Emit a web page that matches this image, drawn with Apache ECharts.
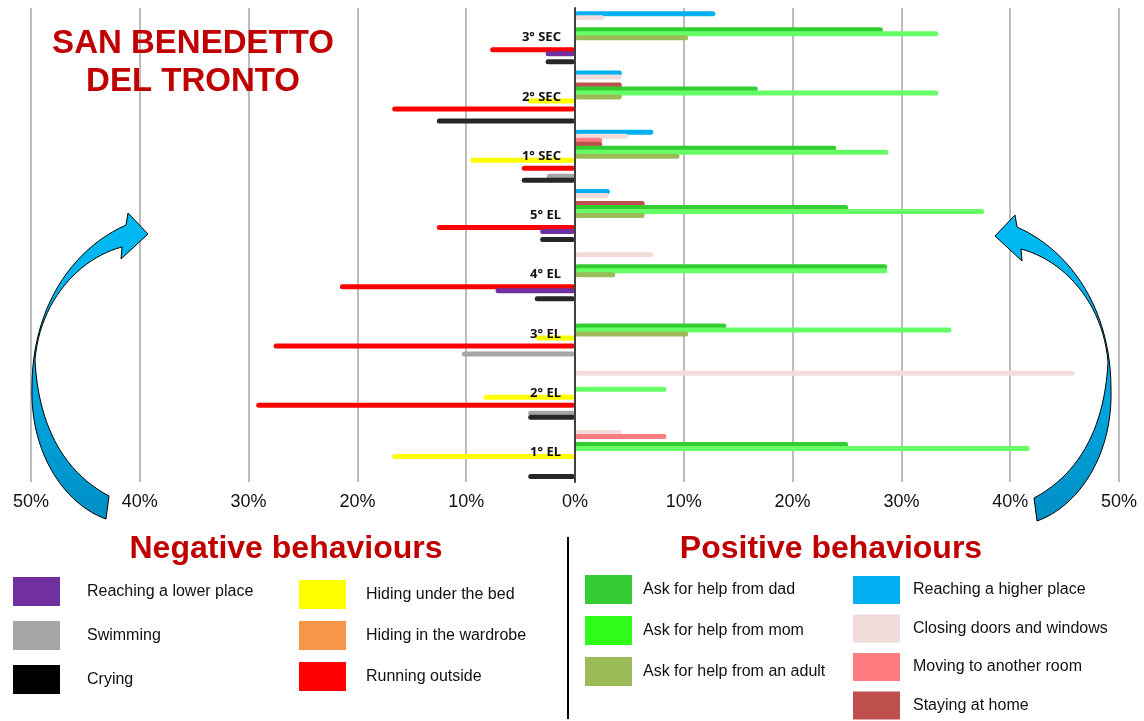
<!DOCTYPE html>
<html>
<head>
<meta charset="utf-8">
<script src="https://cdn.jsdelivr.net/npm/echarts@6/dist/echarts.min.js"></script>
<style>html,body{margin:0;padding:0;background:#fff;}#c{width:1144px;height:721px;}</style>
</head>
<body>
<div id="c"></div>
<script>
// Categories (bottom to top on the axis)
const categories = ['1° EL', '2° EL', '3° EL', '4° EL', '5° EL', '1° SEC', '2° SEC', '3° SEC'];
const xTicks = [-50, -40, -30, -20, -10, 0, 10, 20, 30, 40, 50];

// Positive behaviours (%)
const higherPlace   = [0, 0, 0, 0, 3.2, 7.2, 4.3, 12.9];
const closingDoors  = [4.3, 45.9, 0, 7.2, 3.1, 4.9, 4.3, 2.7];
const anotherRoom   = [8.4, 0, 0, 0, 0, 2.5, 0, 0];
const stayingHome   = [0, 0, 0, 0, 6.4, 2.5, 4.3, 0];
const helpDad       = [25.1, 0, 13.9, 28.7, 25.1, 24.0, 16.8, 28.3];
const helpMom       = [41.8, 8.4, 34.6, 28.7, 37.6, 28.8, 33.4, 33.4];
const helpAdult     = [0, 0, 10.4, 3.7, 6.4, 9.6, 4.3, 10.4];
// Negative behaviours (%), drawn to the left
const underBed      = [-16.8, -8.4, -3.6, 0, 0, -9.6, -4.3, 0];
const inWardrobe    = [0, 0, 0, 0, 0, 0, 0, 0];
const runningOut    = [0, -29.3, -27.7, -21.6, -12.7, -4.9, -16.8, -7.8];
const lowerPlace    = [0, 0, 0, -7.3, -3.2, 0, 0, -2.7];
const swimming      = [0, -4.3, -10.4, 0, 0, -2.6, 0, 0];
const crying        = [-4.3, -4.3, 0, -3.7, -3.2, -4.9, -12.7, -2.7];

const seriesDefs = [
  ['Reaching a higher place', higherPlace, '#00B0F0'],
  ['Closing doors and windows', closingDoors, '#F2DCDB'],
  ['Moving to another room', anotherRoom, '#FF7C80'],
  ['Staying at home', stayingHome, '#C0504D'],
  ['Ask for help from dad', helpDad, '#33CC33'],
  ['Ask for help from mom', helpMom, '#66FF66'],
  ['Ask for help from an adult', helpAdult, '#9BBB59'],
  ['Hiding under the bed', underBed, '#FFFF00'],
  ['Hiding in the wardrobe', inWardrobe, '#F79646'],
  ['Running outside', runningOut, '#FF0000'],
  ['Reaching a lower place', lowerPlace, '#7030A0'],
  ['Swimming', swimming, '#A6A6A6'],
  ['Crying', crying, '#262626']
];

const chart = echarts.init(document.getElementById('c'));

const series = seriesDefs.map(([name, data, color]) => ({
  name: name,
  type: 'bar',
  data: data,
  barWidth: 5,
  barGap: '-20%',
  barCategoryGap: '10%',
  itemStyle: { color: color, borderRadius: 2.5 },
  emphasis: { disabled: true },
  animation: false
}));

const legendBase = {
  orient: 'vertical',
  icon: 'rect',
  padding: 0,
  itemWidth: 47,
  itemHeight: 29,
  height: 160,
  selectedMode: false,
  textStyle: { fontSize: 16, color: '#111', fontFamily: 'Liberation Sans, Arial, sans-serif' }
};
function L(opts, pad) {
  return Object.assign({}, legendBase, opts, {
    textStyle: Object.assign({}, legendBase.textStyle, { padding: [5, 0, 0, pad] })
  });
}

// Decorative curved arrow outline, sampled from cubic segments into a polygon
function bez(p0, p1, p2, p3, n) {
  const pts = [];
  for (let i = 1; i <= n; i++) {
    const t = i / n, u = 1 - t;
    pts.push([
      u*u*u*p0[0] + 3*u*u*t*p1[0] + 3*u*t*t*p2[0] + t*t*t*p3[0],
      u*u*u*p0[1] + 3*u*u*t*p1[1] + 3*u*t*t*p2[1] + t*t*t*p3[1]
    ]);
  }
  return pts;
}
function arrowPoints(mirror, dy) {
  const f = p => mirror ? [1143 - p[0], p[1] + dy] : [p[0], p[1] + dy];
  let pts = [[106, 519]];
  pts = pts.concat(bez([106, 519], [66, 505], [30, 455], [32, 387], 24));
  pts = pts.concat(bez([32, 387], [32, 310], [70, 250], [126, 225], 24));
  pts.push([128, 213], [148, 234], [121, 259], [122, 247]);
  pts = pts.concat(bez([122, 247], [80, 258], [40, 300], [35, 360], 24));
  pts = pts.concat(bez([35, 360], [38, 420], [60, 470], [109, 496], 24));
  return pts.map(f);
}
function grad() {
  return new echarts.graphic.LinearGradient(0, 0, 0, 1, [
    { offset: 0, color: '#00BAF3' },
    { offset: 0.55, color: '#00A8E2' },
    { offset: 1, color: '#008FC4' }
  ]);
}
const titleFont = 'bold 33px "Liberation Sans", Arial, sans-serif';
function txt(text, x, y, font) {
  return { type: 'text', x: x, y: y, z: 20,
    style: { text: text, font: font, fill: '#C00000', textAlign: 'center', textVerticalAlign: 'middle' } };
}

const option = {
  backgroundColor: '#fff',
  animation: false,
  grid: { left: 31, right: 25, top: 8, bottom: 239, containLabel: false, outerBoundsMode: 'none' },
  xAxis: {
    type: 'value',
    min: xTicks[0],
    max: xTicks[xTicks.length - 1],
    interval: 10,
    axisLine: { show: false },
    axisTick: { show: false },
    splitLine: { show: true, showMinLine: true, showMaxLine: true, lineStyle: { color: '#A6A6A6', width: 1.5 } },
    axisLabel: {
      margin: 11,
      fontSize: 18,
      color: '#111',
      fontFamily: 'Liberation Sans, Arial, sans-serif',
      formatter: v => Math.abs(v) + '%'
    }
  },
  yAxis: {
    type: 'category',
    data: categories,
    z: 10,
    offset: -544,
    axisLine: { show: true, onZero: false, lineStyle: { color: '#404040', width: 2 } },
    axisTick: { show: false },
    axisLabel: {
      margin: 14,
      fontSize: 13,
      fontWeight: 'bold',
      color: '#111',
      fontFamily: 'Noto Sans, Liberation Sans, sans-serif'
    }
  },
  legend: [
    L({ left: 13, top: 577, itemGap: 15, data: ['Reaching a lower place', 'Swimming', { name: 'Crying', itemStyle: { color: '#000000' } }] }, 22),
    L({ left: 299, top: 580, itemGap: 12, data: ['Hiding under the bed', 'Hiding in the wardrobe', 'Running outside'] }, 15),
    L({ left: 585, top: 575, itemGap: 12, data: ['Ask for help from dad', { name: 'Ask for help from mom', itemStyle: { color: '#2EFC1A' } }, 'Ask for help from an adult'] }, 6),
    L({ left: 853, top: 576, itemHeight: 28, itemGap: 10.5, data: ['Reaching a higher place', 'Closing doors and windows', 'Moving to another room', 'Staying at home'] }, 8)
  ],
  graphic: [
    txt('SAN BENEDETTO', 193, 44, titleFont),
    txt('DEL TRONTO', 193, 82, titleFont),
    txt('Negative behaviours', 286, 549, 'bold 32px "Liberation Sans", Arial, sans-serif'),
    txt('Positive behaviours', 831, 549, 'bold 32px "Liberation Sans", Arial, sans-serif'),
    { type: 'line', z: 20, shape: { x1: 568, y1: 537, x2: 568, y2: 719 }, style: { stroke: '#000', lineWidth: 2 } },
    { type: 'polygon', z: 20, shape: { points: arrowPoints(false, 0) },
      style: { fill: grad(), stroke: '#000', lineWidth: 1 } },
    { type: 'polygon', z: 20, shape: { points: arrowPoints(true, 2) },
      style: { fill: grad(), stroke: '#000', lineWidth: 1 } }
  ],
  series: series
};
chart.setOption(option);
</script>
</body>
</html>
